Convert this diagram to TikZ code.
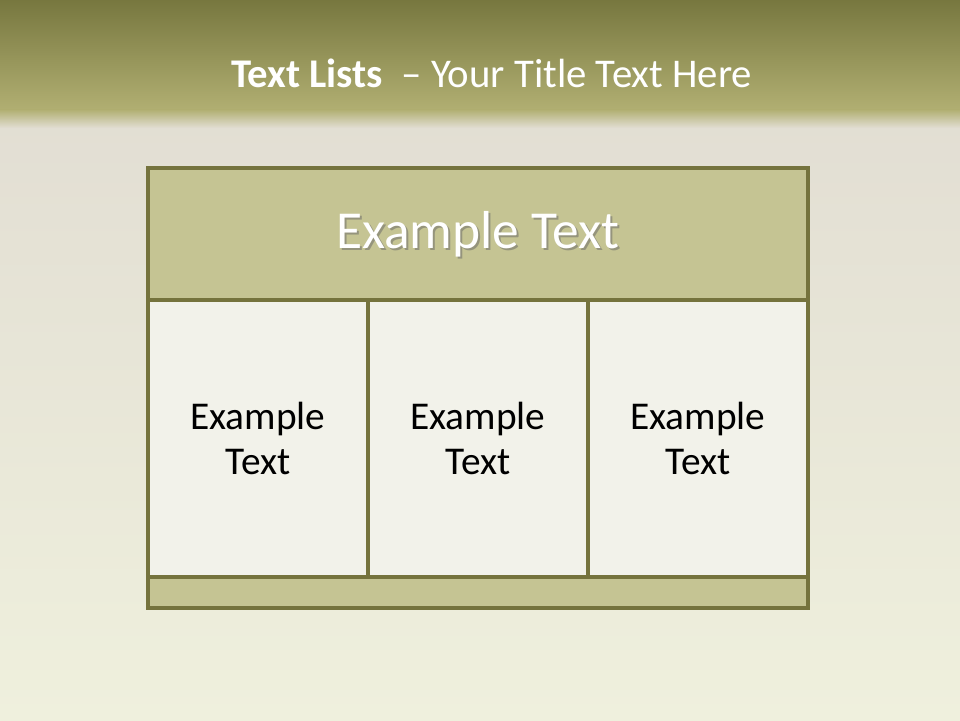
\documentclass[tikz,border=0pt]{standalone}
\usepackage{fontspec}
\setmainfont{Carlito}
\usepackage{tikz}
\usetikzlibrary{positioning,calc}
\definecolor{olivedark}{HTML}{75733D}
\definecolor{olivetop}{HTML}{77773F}
\definecolor{olivebar}{HTML}{B1AF72}
\definecolor{headfill}{HTML}{C5C493}
\definecolor{cellfill}{HTML}{F2F2EA}
\definecolor{pagetop}{HTML}{E2DED3}
\definecolor{pagebottom}{HTML}{EFF0DD}

\begin{document}
\begin{tikzpicture}[
    header/.style={draw=olivedark, fill=headfill, line width=2.6pt, inner sep=0pt,
                   minimum width=16.5cm, minimum height=3.3cm},
    cell/.style={draw=olivedark, fill=cellfill, line width=2.6pt, inner sep=0pt,
                 minimum width=5.5cm, minimum height=6.925cm, align=center,
                 font=\fontsize{28}{32}\selectfont},
    footer/.style={draw=olivedark, fill=headfill, line width=2.6pt, inner sep=0pt,
                   minimum width=16.5cm, minimum height=0.775cm},
    title/.style={anchor=base, text=white, font=\fontsize{29}{34}\selectfont},
    headtext/.style={font=\fontsize{38}{44}\selectfont}
]
% --- page ---
\useasboundingbox (0,0) rectangle (24,18);
\shade[top color=pagetop, bottom color=pagebottom] (0,0) rectangle (24,15.2);
\shade[top color=olivetop, bottom color=olivebar] (0,15.25) rectangle (24,18);
\shade[top color=olivebar, bottom color=pagetop] (0,14.8) rectangle (24,15.26);

% --- title ---
\node[title] (ttl) at (12.29,15.8) {\textbf{Text Lists}\ \ -- Your Title Text Here};

% --- table ---
\node[header] (hd) at (11.95,12.15) {};
\node[headtext, text=black!60, opacity=0.5] (hdshadow) at (12.0,12.1) {Example Text};
\node[headtext, text=white] (hdtext) at (hd.center) {Example Text};

\node[cell] (c1) at (6.45,7.0375)  {Example\\Text};
\node[cell] (c2) at (11.95,7.0375) {Example\\Text};
\node[cell] (c3) at (17.45,7.0375) {Example\\Text};

\node[footer] (ft) at (11.95,3.1875) {};

\end{tikzpicture}
\end{document}
